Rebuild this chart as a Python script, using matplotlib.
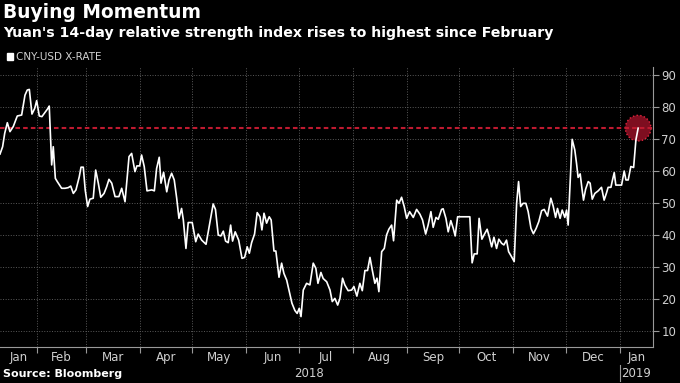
import pandas as pd
import matplotlib
matplotlib.use('Agg')
import matplotlib.pyplot as plt
import matplotlib.transforms as mtransforms
from matplotlib.patches import Patch

# Datos (dias desde 2018-01-11, RSI 14 dias) ==================================
start = pd.Timestamp('2018-01-11')
day_offset = [
    0, 1.5, 2.7, 4.2, 5.7, 7.6, 9.9, 12.4, 14.3, 15.6, 16.8, 18.3, 19.9, 21.0,
    22.5, 24.0, 25.6, 27.5, 28.2, 29.6, 30.5, 31.7, 32.8, 35.3, 37.2, 39.1,
    40.5, 42.0, 43.5, 45.4, 46.4, 47.7, 48.8, 50.2, 51.5, 53.4, 54.8, 56.3,
    57.7, 59.6, 61.1, 62.4, 64.0, 65.9, 68.1, 69.7, 71.6, 73.9, 75.4, 77.3,
    78.4, 80.0, 81.1, 82.6, 84.2, 86.9, 88.4, 89.7, 91.2, 92.2, 93.7, 95.5,
    96.8, 98.3, 99.8, 101.2, 102.5, 104.0, 105.0, 106.5, 107.8, 110.1, 112.1,
    113.5, 115.5, 118.0, 119.8, 122.1, 123.4, 125.0, 126.5, 127.9, 129.2,
    130.7, 132.1, 133.2, 134.7, 136.7, 138.6, 140.1, 141.6, 142.8, 144.1,
    145.8, 147.3, 148.9, 150.0, 151.2, 152.7, 154.2, 155.3, 156.9, 158.0,
    159.8, 161.3, 162.6, 164.2, 165.7, 167.2, 168.9, 170.2, 171.4, 172.4,
    173.7, 175.6, 177.5, 179.4, 180.9, 182.1, 183.8, 185.1, 187.1, 189.0,
    190.3, 191.8, 193.4, 194.7, 196.2, 197.5, 199.4, 201.4, 202.7, 204.4,
    206.1, 207.5, 209.0, 210.5, 211.9, 213.2, 214.7, 215.9, 217.0, 218.6,
    220.1, 221.4, 222.7, 224.3, 225.4, 227.2, 228.5, 230.0, 231.5, 232.9,
    234.6, 236.7, 238.6, 240.5, 242.0, 243.8, 245.2, 246.8, 248.1, 249.7,
    251.0, 252.9, 253.8, 255.4, 256.7, 258.2, 259.6, 260.7, 262.1, 269.1,
    270.4, 271.6, 273.3, 274.4, 276.0, 277.5, 279.0, 280.2, 281.6, 282.9,
    284.4, 285.7, 287.3, 288.6, 290.1, 291.3, 293.0, 294.5, 295.9, 297.0,
    298.2, 299.6, 301.2, 302.5, 304.1, 305.5, 307.1, 308.6, 310.2, 311.7,
    313.6, 315.5, 316.8, 318.2, 319.3, 320.8, 322.0, 323.5, 324.5, 325.4,
    327.7, 329.2, 330.2, 331.1, 332.3, 333.4, 334.2, 335.4, 336.9, 338.0,
    339.2, 340.7, 342.6, 344.5, 346.0, 347.4, 348.3, 349.9, 350.6, 351.8,
    352.7, 354.4, 356.0, 357.5, 358.5, 359.8, 361.3, 362.9, 364.2, 365.5,
]
rsi = [
    65.3, 67.6, 71.8, 75.1, 72.3, 73.9, 77.2, 77.5, 83.7, 85.3, 85.5, 77.8,
    79.6, 82.0, 77.2, 77.0, 78.2, 79.6, 80.3, 61.9, 67.6, 57.7, 56.7, 54.6,
    54.6, 54.8, 55.3, 53.0, 54.1, 58.2, 61.2, 61.2, 54.1, 48.9, 51.2, 51.5,
    60.3, 56.2, 51.8, 53.0, 55.1, 57.4, 56.2, 52.0, 52.0, 54.6, 50.4, 64.5,
    65.5, 59.8, 61.6, 61.6, 65.0, 61.4, 53.8, 54.1, 53.8, 60.8, 64.3, 56.2,
    59.6, 53.5, 57.2, 59.3, 57.2, 51.5, 45.2, 48.3, 44.7, 35.8, 43.9, 43.9,
    37.9, 40.3, 38.4, 37.1, 42.6, 49.7, 48.0, 40.0, 39.7, 41.2, 38.1, 37.6,
    43.1, 38.1, 41.0, 38.4, 32.7, 33.0, 36.3, 34.3, 37.6, 40.3, 47.0, 45.7,
    41.6, 46.8, 43.7, 45.7, 44.7, 35.0, 35.0, 26.8, 31.2, 28.0, 25.9, 22.3,
    18.7, 16.4, 15.5, 17.1, 14.5, 22.8, 24.9, 24.4, 31.2, 29.6, 24.9, 28.3,
    26.4, 25.4, 22.8, 19.2, 20.2, 18.1, 20.2, 26.5, 24.4, 22.6, 22.8, 23.9,
    20.9, 24.9, 22.6, 28.9, 28.9, 33.0, 29.1, 24.9, 26.5, 22.3, 34.8, 35.8,
    40.0, 41.8, 43.1, 38.2, 50.9, 49.9, 51.8, 48.9, 45.2, 47.3, 45.5, 48.0,
    46.5, 44.7, 40.3, 43.1, 47.3, 42.4, 45.5, 44.9, 48.0, 48.2, 45.2, 41.0,
    44.5, 42.1, 39.7, 45.7, 45.7, 31.3, 34.1, 34.1, 45.2, 38.7, 40.3, 41.8,
    39.5, 36.3, 39.3, 35.8, 38.7, 37.4, 36.9, 38.4, 34.8, 33.2, 31.7, 49.9,
    56.7, 48.9, 49.9, 49.9, 47.3, 42.1, 40.4, 42.1, 44.2, 47.6, 48.0, 45.9,
    51.5, 49.1, 45.5, 48.3, 45.2, 47.8, 45.5, 47.8, 43.1, 69.9, 66.6, 62.4,
    58.0, 59.1, 54.1, 50.9, 54.3, 56.7, 56.2, 51.2, 53.0, 53.8, 54.9, 50.9,
    53.2, 54.9, 54.9, 56.7, 59.5, 55.6, 55.6, 55.6, 60.0, 57.2, 57.2, 61.4,
    61.1, 69.7, 73.4,
]
feb_level = 73.4
month_names = ['Jan', 'Feb', 'Mar', 'Apr', 'May', 'Jun', 'Jul', 'Aug', 'Sep',
               'Oct', 'Nov', 'Dec', 'Jan']
y_ticks = [10, 20, 30, 40, 50, 60, 70, 80, 90]

dates = start + pd.to_timedelta(day_offset, unit='D')
x0 = start
x1 = pd.Timestamp('2019-01-20')
new_year = pd.Timestamp('2019-01-01')

narrow = ['Liberation Sans Narrow', 'DejaVu Sans']
fg = '#d0d0d0'

# Visualización ===============================================================
fig = plt.figure(figsize=(6.8, 3.83), dpi=100, facecolor='black')
ax = fig.add_axes([0, 0.094, 653 / 680, 0.731], facecolor='black')

ax.plot(dates, rsi, color='white', lw=1.2, zorder=5)
ax.axhline(feb_level, color='#bf1a30', lw=1.5, ls=(0, (2.2, 1.5)), zorder=4)
ax.scatter([dates[-1]], [rsi[-1]], s=340, color='#7e0e20', edgecolors='#e3243d',
           linewidths=1.0, linestyle=':', zorder=3)

ax.set_xlim(x0, x1)
ax.set_ylim(5, 92.5)

# Ejes y rejilla
month_starts = pd.date_range('2018-02-01', '2019-01-01', freq='MS')
ax.set_xticks(month_starts)
ax.set_xticklabels([])
bounds = [x0] + list(month_starts) + [x1]
mids = [bounds[i] + (bounds[i + 1] - bounds[i]) / 2 for i in range(len(bounds) - 1)]
ax.set_xticks(mids, minor=True)
ax.set_xticklabels(month_names, minor=True)
ax.tick_params(axis='x', which='major', direction='out', length=4, color='#999999')
ax.tick_params(axis='x', which='minor', length=0, pad=3, labelsize=8.5,
               labelcolor=fg)
for lab in ax.get_xticklabels(minor=True):
    lab.set_family(narrow)

ax.yaxis.tick_right()
ax.set_yticks(y_ticks)
ax.tick_params(axis='y', direction='out', length=4, color='#999999', pad=2,
               labelsize=8.5, labelcolor=fg)
for lab in ax.get_yticklabels():
    lab.set_family(narrow)

for s in ['left', 'top']:
    ax.spines[s].set_visible(False)
for s in ['right', 'bottom']:
    ax.spines[s].set_color('#999999')
    ax.spines[s].set_linewidth(0.8)

ax.grid(True, which='major', color='#5a5a5a', ls=':', lw=0.7)
ax.set_axisbelow(True)

# Etiquetas de año
trans = mtransforms.blended_transform_factory(ax.transData, ax.transAxes)
ax.text(x0 + (pd.Timestamp('2018-12-31') - x0) / 2, -0.07, '2018', transform=trans,
        ha='center', va='top', color=fg, fontsize=8.5, family=narrow)
ax.text(new_year + (x1 - new_year) / 2, -0.07, '2019', transform=trans,
        ha='center', va='top', color=fg, fontsize=8.5, family=narrow)
ax.plot([new_year] * 2, [-0.065, -0.12], transform=trans,
        color='#999999', lw=0.8, clip_on=False)

# Textos
fig.text(0.004, 0.993, 'Buying Momentum', color='white', fontsize=13.4,
         fontweight='bold', va='top')
fig.text(0.004, 0.932, "Yuan's 14-day relative strength index rises to highest since February",
         color='white', fontsize=10.2, fontweight='bold', va='top')
ax.legend(handles=[Patch(color='white', label='CNY-USD X-RATE')],
          loc='center left', bbox_to_anchor=(0.004, 0.851),
          bbox_transform=fig.transFigure, frameon=False, handlelength=0.6,
          handleheight=0.6, handletextpad=0.25, borderaxespad=0,
          prop={'family': narrow, 'size': 7.5}, labelcolor=fg)
fig.text(0.005, 0.01, 'Source: Bloomberg', color='white', fontsize=8,
         fontweight='bold', va='bottom')

plt.savefig('out.png', dpi=100, facecolor='black')
